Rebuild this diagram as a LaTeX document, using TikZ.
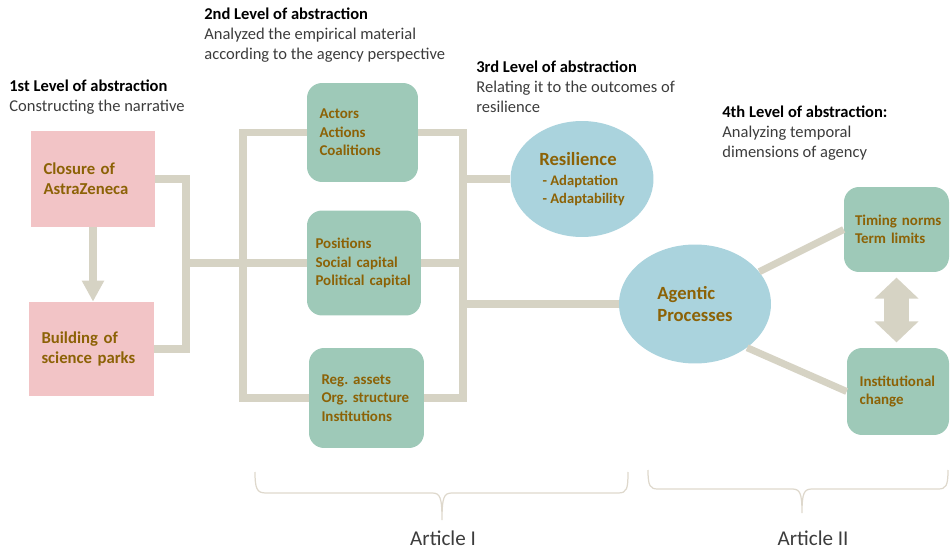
\documentclass[tikz,border=0pt]{standalone}
\usepackage{fontspec}
\setmainfont{Carlito}
\usetikzlibrary{arrows.meta,shapes.geometric}

\definecolor{boxpink}{RGB}{242,196,198}
\definecolor{boxgreen}{RGB}{158,201,184}
\definecolor{boxblue}{RGB}{170,211,221}
\definecolor{boxtext}{RGB}{140,98,6}
\definecolor{linkgray}{RGB}{214,211,196}
\definecolor{bracegray}{RGB}{222,216,204}
\definecolor{desctext}{RGB}{60,60,60}

\frenchspacing

\begin{document}
\begin{tikzpicture}[x=0.02cm, y=-0.02cm,
    leveltext/.style={anchor=north west, inner sep=0pt, align=left,
        font=\fontsize{9.4}{11.3}\selectfont},
    pinkbox/.style={fill=boxpink, inner xsep=0.25cm, align=left, text=boxtext,
        font=\fontsize{9.5}{11.3}\selectfont\bfseries},
    greenbox/.style={fill=boxgreen, rounded corners=0.3cm, inner xsep=0.25cm,
        align=left, text=boxtext, font=\fontsize{8.5}{10.5}\selectfont\bfseries,
        execute at begin node={\hyphenpenalty=10000}},
    bluecircle/.style={ellipse, fill=boxblue, align=left, text=boxtext,
        font=\fontsize{10.6}{12.5}\selectfont\bfseries},
    link/.style={draw=linkgray, line width=4pt},
    blockarrow/.style={draw=linkgray, line width=4pt,
        -{Triangle[width=12pt,length=12pt]}},
    dblarrow/.style={draw=linkgray, line width=14pt,
        {Triangle[width=24.5pt,length=12pt]}-{Triangle[width=24.5pt,length=12pt]}},
    brace/.style={draw=bracegray, line width=0.7pt},
    artlabel/.style={font=\fontsize{12}{14}\selectfont, text=desctext}]

    \useasboundingbox (0,0) rectangle (950,550);

    % Levels of abstraction
    \node[leveltext] (lvlone) at (9,80)
        {\textbf{1st Level of abstraction}\\\textcolor{desctext}{Constructing the narrative}};
    \node[leveltext] (lvltwo) at (204,8)
        {\textbf{2nd Level of abstraction}\\\textcolor{desctext}{Analyzed the empirical material}\\
         \textcolor{desctext}{according to the agency perspective}};
    \node[leveltext] (lvlthree) at (476,61)
        {\textbf{3rd Level of abstraction}\\\textcolor{desctext}{Relating it to the outcomes of}\\
         \textcolor{desctext}{resilience}};
    \node[leveltext] (lvlfour) at (722,106)
        {\textbf{4th Level of abstraction:}\\\textcolor{desctext}{Analyzing temporal}\\
         \textcolor{desctext}{dimensions of agency}};

    % Narrative
    \node[pinkbox, minimum width=2.48cm, minimum height=1.92cm, text width=1.98cm]
        (closure) at (93,179) {Closure of\\AstraZeneca};
    \node[pinkbox, minimum width=2.5cm, minimum height=1.88cm, text width=2.0cm]
        (building) at (91.5,349) {Building of\\science~parks};

    % Agency perspective
    \node[greenbox, minimum width=2.22cm, minimum height=1.98cm, text width=1.72cm]
        (actors) at (362.5,132.5) {Actors\\Actions\\Coalitions};
    \node[greenbox, inner xsep=0.17cm, minimum width=2.28cm, minimum height=2.1cm, text width=1.94cm]
        (positions) at (364,263) {Positions\\Social~capital\\Political~capital};
    \node[greenbox, minimum width=2.3cm, minimum height=2.0cm, text width=1.8cm]
        (regassets) at (366.5,398) {Reg. assets\\Org. structure\\Institutions};

    % Outcomes
    \node[bluecircle, minimum width=2.86cm, minimum height=2.32cm]
        (resilience) at (582,179)
        {Resilience\\[-1pt]{\fontsize{8.3}{9.6}\selectfont\ - Adaptation}\\[-2pt]
         {\fontsize{8.3}{9.6}\selectfont\ - Adaptability}};
    \node[bluecircle, minimum width=3.04cm, minimum height=2.38cm]
        (agentic) at (695,304) {Agentic\\Processes};

    % Temporal dimensions
    \node[greenbox, inner xsep=0.22cm, minimum width=2.1cm, minimum height=1.7cm, text width=1.66cm]
        (timing) at (896.5,229.5) {Timing~norms\\Term~limits};
    \node[greenbox, minimum width=2.04cm, minimum height=1.74cm, text width=1.54cm]
        (instchange) at (898,391.5) {Institutional\\change};

    % Junctions
    \coordinate (jnarr) at (186,263);
    \coordinate (jleft) at (243,263);
    \coordinate (jright) at (463,263);

    % Connectors
    \draw[link] (closure.east) -| (jnarr) |- (building.east);
    \draw[link] (jnarr) -- (positions.west);
    \draw[link] (actors.west) -| (jleft) |- (regassets.west);
    \draw[link] (actors.east) -| (jright) |- (regassets.east);
    \draw[link] (positions.east) -- (jright);
    \draw[link] (resilience.west) -- (resilience.west -| jright);
    \draw[link] (agentic.west) -- (agentic.west -| jright);
    \draw[link] (agentic) -- (timing.west);
    \draw[link] (agentic.-40) -- (instchange.west);

    \draw[blockarrow] (closure.south) -- (closure.south |- building.north);
    \draw[dblarrow] ([yshift=-3pt]timing.south) -- ([yshift=3pt]timing.south |- instchange.north);

    % Articles
    \draw[brace] (255,472) .. controls (255,489) and (257,493) .. (266,493) -- (432,493)
        .. controls (440,493) and (442,497) .. (442,520)
        .. controls (442,497) and (444,493) .. (452,493) -- (618,493)
        .. controls (627,493) and (628,489) .. (628,472);
    \draw[brace] (648,470) .. controls (648,486) and (650,489) .. (658,489) -- (792,489)
        .. controls (800,489) and (802,493) .. (802,513)
        .. controls (802,493) and (804,489) .. (812,489) -- (938,489)
        .. controls (946,489) and (948,486) .. (948,470);
    \node[artlabel] (artone) at (443,538) {Article I};
    \node[artlabel] (arttwo) at (813,538) {Article II};

\end{tikzpicture}
\end{document}
